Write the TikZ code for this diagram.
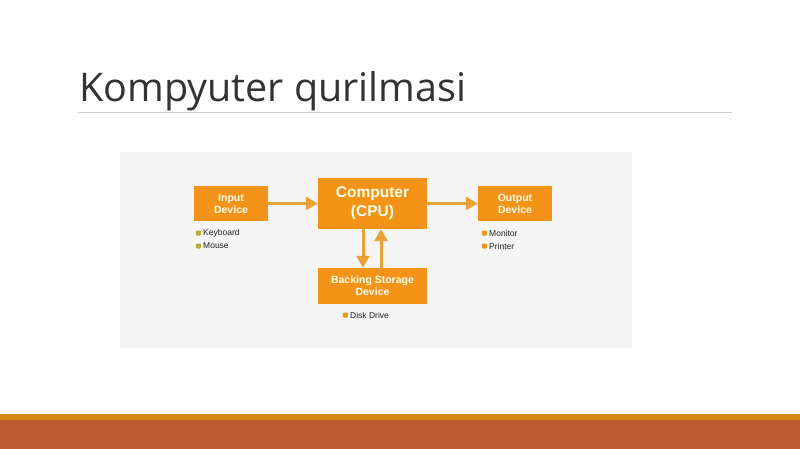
\documentclass[tikz,border=0pt]{standalone}
\usepackage{fontspec}
\setmainfont{Liberation Sans}
\newfontfamily\titlefont{Open Sans}
\usetikzlibrary{arrows.meta,positioning}

\definecolor{unitorange}{HTML}{F39419}
\definecolor{flowgold}{HTML}{E8A235}
\definecolor{panelgray}{HTML}{F5F5F5}
\definecolor{titlegray}{HTML}{333333}
\definecolor{rulegray}{HTML}{CFCFCF}
\definecolor{bandrust}{HTML}{BE5A2F}
\definecolor{bandgold}{HTML}{D9880E}
\definecolor{inolive}{HTML}{B8A838}
\definecolor{itemtext}{HTML}{222222}

\tikzset{
	unit/.style={fill=unitorange, text=white!92!yellow, align=center, inner sep=0, font=\bfseries},
	flow/.style={flowgold, line width=3pt, -{Triangle[length=12pt,width=13pt]}},
	item/.style={anchor=west, inner sep=0, text=itemtext, font=\fontsize{8.5}{10}\selectfont},
	dot/.style={minimum size=5pt, inner sep=0, rounded corners=1pt}
}

\begin{document}
\begin{tikzpicture}[x=1pt,y=-1pt]
	\useasboundingbox (0,0) rectangle (800,449);
	\fill[white] (0,0) rectangle (800,449);

	% title and rule
	\node[anchor=base west, inner sep=0, text=titlegray, font=\titlefont\fontsize{39.5}{48}\selectfont] (title) at (79,102) {Kompyuter qurilmasi};
	\draw[rulegray, line width=1pt] (78,113) -- (732,113);

	% picture panel
	\fill[panelgray] (120,152) rectangle (632,348);

	% units
	\node[unit, minimum width=74pt, minimum height=35pt, font=\bfseries\fontsize{10.5}{12}\selectfont] (input) at (231,203.5) {Input\\Device};
	\node[unit, minimum width=109pt, minimum height=51pt, font=\bfseries\fontsize{15.5}{19}\selectfont] (cpu) at (372.5,203.5) {Computer\\(CPU)};
	\node[unit, minimum width=74pt, minimum height=35pt, font=\bfseries\fontsize{10.5}{12}\selectfont] (output) at (515,203.5) {Output\\Device};
	\node[unit, minimum width=109pt, minimum height=36pt, font=\bfseries\fontsize{10.5}{12}\selectfont] (store) at (372.5,286) {Backing Storage\\Device};

	% connectors
	\draw[flow] (input) -- (cpu);
	\draw[flow] (cpu) -- (output);
	\draw[flow] ([xshift=-9.5pt]cpu.south) -- ([xshift=-9.5pt]store.north);
	\draw[flow] ([xshift=8.5pt]store.north) -- ([xshift=8.5pt]cpu.south);

	% lists
	\node[item] (kbd) at (203,233) {Keyboard};
	\node[item] (mouse) at (203,246) {Mouse};
	\node[item] (mon) at (489,233) {Monitor};
	\node[item] (prn) at (489,246) {Printer};
	\node[item] (disk) at (350,315) {Disk Drive};
	\node[dot, fill=inolive, left=2pt of kbd] (kbddot) {};
	\node[dot, fill=inolive, left=2pt of mouse] (mousedot) {};
	\node[dot, fill=unitorange, left=2pt of mon] (mondot) {};
	\node[dot, fill=unitorange, left=2pt of prn] (prndot) {};
	\node[dot, fill=unitorange, left=2pt of disk] (diskdot) {};

	% footer band
	\fill[bandgold] (0,414) rectangle (800,420);
	\fill[bandrust] (0,420) rectangle (800,449);
\end{tikzpicture}
\end{document}
